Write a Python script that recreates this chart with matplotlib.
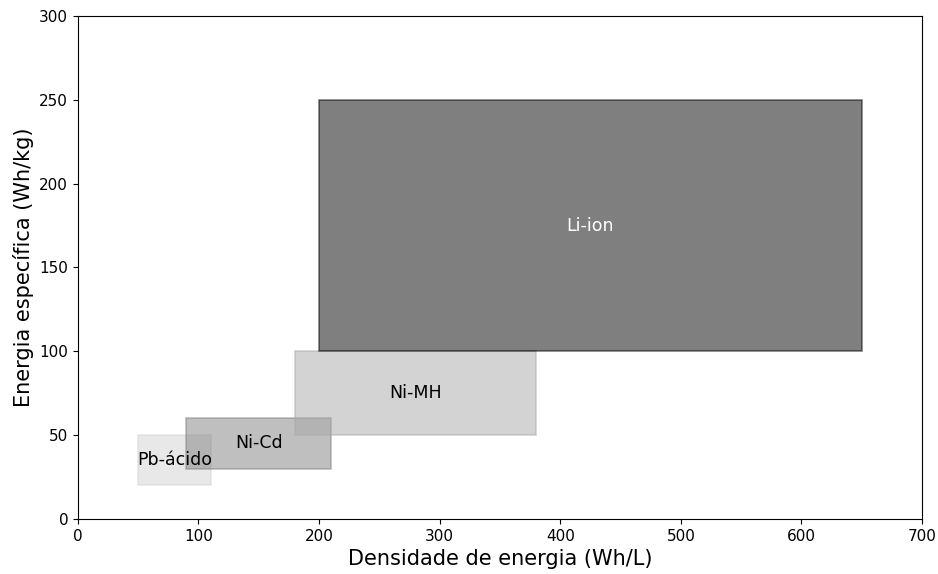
import matplotlib
matplotlib.use("Agg")
import matplotlib.pyplot as plt
from matplotlib.patches import Rectangle

names = ["Pb-ácido", "Ni-Cd", "Ni-MH", "Li-ion"]
x_min = [50, 90, 180, 200]
x_max = [110, 210, 380, 650]
y_min = [20, 30, 50, 100]
y_max = [50, 60, 100, 250]
colors = ["lightgray", "gray", "darkgray", "black"]
text_colors = ["black", "black", "black", "white"]

fig, ax = plt.subplots(figsize=(9.38, 5.74), dpi=100)
fig.subplots_adjust(left=0.083, right=0.983, top=0.972, bottom=0.096)

for n, x0, x1, y0, y1, c, tc in zip(names, x_min, x_max, y_min, y_max, colors, text_colors):
    ax.add_patch(Rectangle((x0, y0), x1 - x0, y1 - y0, facecolor=c, edgecolor=c, alpha=0.5, linewidth=1.2))
    ax.text((x0 + x1) / 2, (y0 + y1) / 2, n, ha="center", va="center", fontsize=12.5, color=tc)

ax.set_xlim(0, 700)
ax.set_ylim(0, 300)
ax.tick_params(labelsize=11)
ax.set_xlabel("Densidade de energia (Wh/L)", fontsize=15)
ax.set_ylabel("Energia específica (Wh/kg)", fontsize=15)

fig.savefig("out.png", dpi=100)
